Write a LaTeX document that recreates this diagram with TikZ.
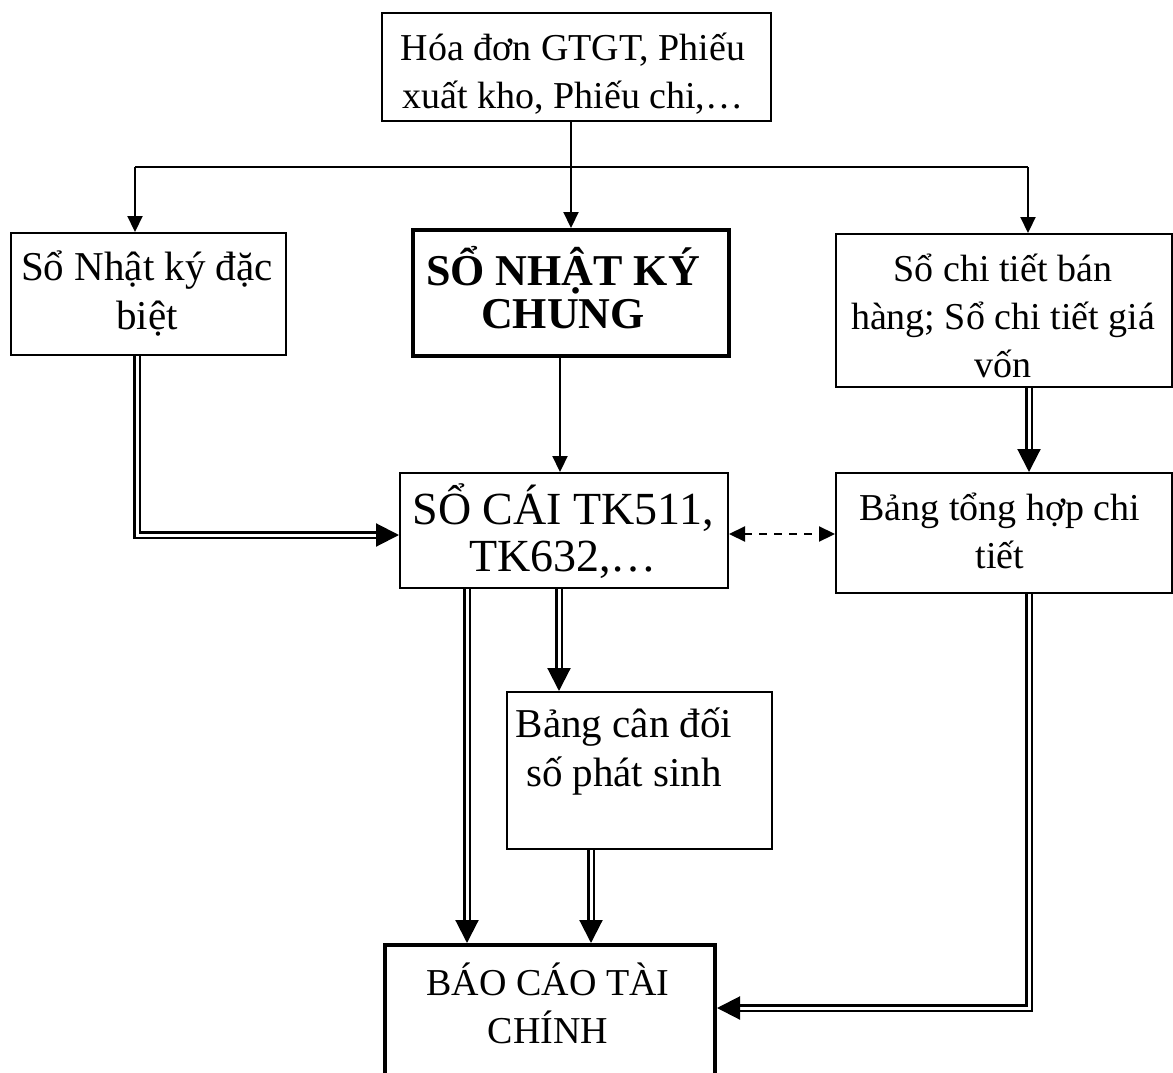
\documentclass[tikz,border=0pt]{standalone}
\usepackage{fontspec}
\setmainfont{Liberation Serif}
\usetikzlibrary{arrows.meta}
\begin{document}
\begin{tikzpicture}[x=1pt,y=-1pt,
  box/.style={draw, line width=2pt, inner sep=0pt, anchor=north west},
  heavybox/.style={box, line width=4pt},
  txt/.style={align=center, inner sep=0pt, font=\fontsize{38}{48}\selectfont},
  bigtxt/.style={txt, font=\fontsize{41}{49}\selectfont},
  plain/.style={line width=2.2pt},
  sgl/.style={line width=2.2pt, -{Triangle[length=16pt,width=15pt]}},
  dbl/.style={double, line width=2.1pt, double distance=3pt, line join=miter,
              -{Triangle[length=23pt,width=23pt]}},
  dsh/.style={line width=2.2pt, dash pattern=on 8pt off 7pt,
              {Triangle[length=16pt,width=15pt]}-{Triangle[length=16pt,width=15pt]}}
]
\useasboundingbox (0,0) rectangle (1173,1073);

% boxes
\node[box, minimum width=389pt, minimum height=108pt] (src) at (381,12) {};
\node[box, minimum width=275pt, minimum height=122pt] (nkdb) at (10,232) {};
\node[heavybox, minimum width=316pt, minimum height=126pt] (nkc) at (411,228) {};
\node[box, minimum width=336pt, minimum height=153pt] (ct) at (835,233) {};
\node[box, minimum width=328pt, minimum height=115pt] (sc) at (399,472) {};
\node[box, minimum width=336pt, minimum height=120pt] (th) at (835,472) {};
\node[box, minimum width=265pt, minimum height=157pt] (cd) at (506,691) {};
\node[heavybox, minimum width=330pt, minimum height=150pt] (bc) at (383,943) {};

% texts
\node[txt] (srct) at (573,74) {Hóa đơn GTGT, Phiếu\\xuất kho, Phiếu chi,…};
\node[bigtxt] (nkdbt) at (147,294) {Sổ Nhật ký đặc\\biệt};
\node[txt, font=\fontsize{44}{43}\selectfont\bfseries] (nkct) at (563,288) {SỔ NHẬT KÝ\\CHUNG};
\node[txt] (ctt) at (1003,316) {Sổ chi tiết bán\\hàng; Sổ chi tiết giá\\vốn};
\node[txt, font=\fontsize{46}{47}\selectfont] (sct) at (563,531) {SỔ CÁI TK511,\\TK632,…};
\node[txt] (tht) at (1000,531) {Bảng tổng hợp chi\\tiết};
\node[bigtxt] (cdt) at (624,752) {Bảng cân đối\\số phát sinh};
\node[txt] (bct) at (548,1003) {BÁO CÁO TÀI\\CHÍNH};

% distribution from source documents
\coordinate (jl) at (135,167);
\coordinate (jr) at (1028,167);
\draw[sgl] (src.south -| nkc.north) -- (nkc.north);
\draw[plain] (jl) -- (jr);
\draw[sgl] (jl) -- (jl |- nkdb.north);
\draw[sgl] (jr) -- (jr |- ct.north);

% journal to ledger
\draw[sgl] ([xshift=-11pt]nkc.south) -- ([xshift=-11pt]nkc.south |- sc.north);

% special journal to ledger
\coordinate (lrow) at (0,535);
\draw[dbl] ([xshift=-11.5pt]nkdb.south) |- (sc.west |- lrow);

% ledger <-> detail summary
\coordinate (drow) at (0,534);
\draw[dsh] (sc.east |- drow) -- (th.west |- drow);

% detail books to summary
\draw[dbl] ([xshift=25pt]ct.south) -- ([xshift=25pt]ct.south |- th.north);

% ledger to trial balance and statements
\draw[dbl] ([xshift=-97pt]sc.south) -- ([xshift=-97pt]sc.south |- bc.north);
\draw[dbl] ([xshift=-5pt]sc.south) -- ([xshift=-5pt]sc.south |- cd.north);
\draw[dbl] ([xshift=-48.5pt]cd.south) -- ([xshift=-48.5pt]cd.south |- bc.north);

% detail summary to statements
\coordinate (brow) at (0,1008);
\draw[dbl] ([xshift=25pt]th.south) |- (bc.east |- brow);
\end{tikzpicture}
\end{document}
